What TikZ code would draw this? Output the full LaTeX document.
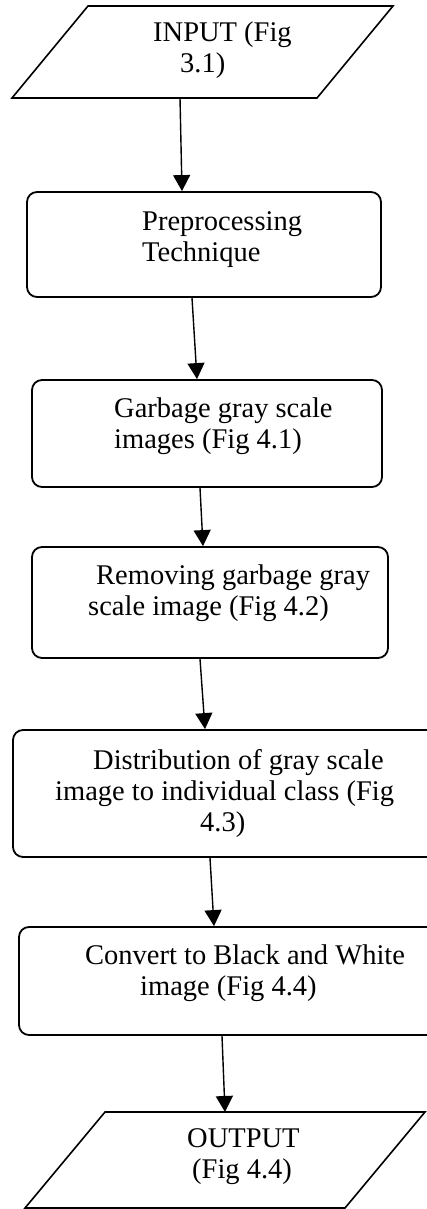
\documentclass[tikz,border=0pt]{standalone}
\usepackage{fontspec}
\setmainfont{Liberation Serif}
\usetikzlibrary{arrows.meta}
\begin{document}
\begin{tikzpicture}[>={Triangle[width=17pt,length=16pt]},x=1pt,y=-1pt,
  hop/.style={draw,line width=1.8pt,rounded corners=10pt},
  txt/.style={align=left,inner sep=0pt,anchor=base west,font=\fontsize{28.5}{31}\selectfont},
  arr/.style={->,line width=1.4pt}]
\useasboundingbox (0,0) rectangle (427,1209);
\clip (0,0) rectangle (427,1209);
% input and output (anchor is the last line)
\draw[line width=1.6pt] (88,6)--(393,6)--(317,98)--(12,98)--cycle;
\coordinate (inp) at (180,98);
\node[txt] (inpT) at (153,73) {INPUT (Fig\\\hspace*{27pt}3.1)};
\draw[line width=1.6pt] (105,1112)--(425,1112)--(345,1208)--(25,1208)--cycle;
\coordinate (out) at (225,1112);
\node[txt] (outT) at (187,1178) {OUTPUT\\\hspace*{5pt}(Fig 4.4)};
% steps
\node[hop,minimum width=354pt,minimum height=105pt] (pre) at (204,244.5) {};
\node[txt] (preT) at (142,261) {Preprocessing\\Technique};
\node[hop,minimum width=350pt,minimum height=107pt] (gar) at (207,433.5) {};
\node[txt] (garT) at (114,448) {Garbage gray scale\\images (Fig 4.1)};
\node[hop,minimum width=356pt,minimum height=111pt] (rem) at (210,602.5) {};
\node[txt] (remT) at (88,615) {\hspace*{8pt}Removing garbage gray\\scale image (Fig 4.2)};
\node[hop,minimum width=427pt,minimum height=127pt] (dis) at (226.5,793.5) {};
\node[txt] (disT) at (55,831) {\hspace*{38pt}Distribution of gray scale\\image to individual class (Fig\\\hspace*{145pt}4.3)};
\node[hop,minimum width=421pt,minimum height=108pt] (con) at (229.5,981) {};
\node[txt] (conT) at (85,995) {Convert to Black and White\\\hspace*{55pt}image (Fig 4.4)};
% arrows
\draw[arr] (inp) -- ([xshift=-22pt]pre.north);
\draw[arr] ([xshift=-12pt]pre.south) -- ([xshift=-10pt]gar.north);
\draw[arr] ([xshift=-7pt]gar.south) -- ([xshift=-7pt]rem.north);
\draw[arr] ([xshift=-10pt]rem.south) -- ([xshift=-21.5pt]dis.north);
\draw[arr] ([xshift=-16.5pt]dis.south) -- ([xshift=-15.5pt]con.north);
\draw[arr] ([xshift=-7.5pt]con.south) -- (out);
\end{tikzpicture}
\end{document}
